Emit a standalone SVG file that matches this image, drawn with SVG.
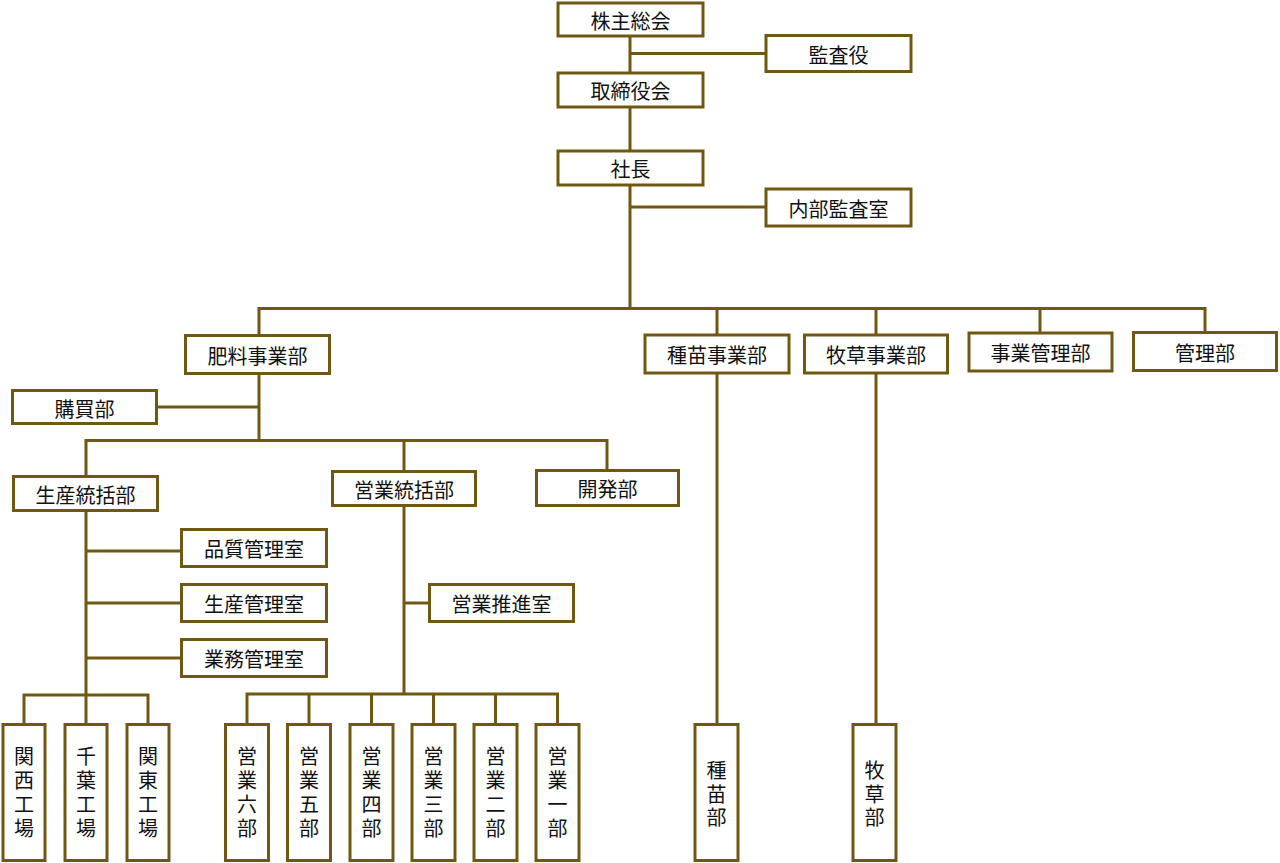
<svg xmlns="http://www.w3.org/2000/svg" width="1280" height="863" viewBox="0 0 1280 863">
<style>
.box{fill:#fff;stroke:#705812;stroke-width:3}
.ln{fill:none;stroke:#705812;stroke-width:3;stroke-linejoin:miter}
.t{font-family:"Noto Sans CJK JP","Noto Sans",sans-serif;font-size:20px;fill:#111;text-anchor:middle;dominant-baseline:central}
.v{writing-mode:vertical-rl;letter-spacing:3.7px}
</style>
<rect width="1280" height="863" fill="#fff"/>
<g id="connectors">
<path class="ln" d="M630,36 V73"/>
<path class="ln" d="M630,53.5 H766"/>
<path class="ln" d="M630,107 V151"/>
<path class="ln" d="M630,185 V308.5"/>
<path class="ln" d="M630,207 H766"/>
<path class="ln" d="M259,335.5 V308.5 H1205 V332.5"/>
<path class="ln" d="M717,308.5 V335 M876,308.5 V335 M1040,308.5 V333"/>
<path class="ln" d="M259,373.5 V440.5"/>
<path class="ln" d="M156.5,407 H259"/>
<path class="ln" d="M86,476.5 V440.5 H607 V470.5"/>
<path class="ln" d="M404,440.5 V471.5"/>
<path class="ln" d="M86,510.5 V695"/>
<path class="ln" d="M86,551 H181.5 M86,603 H181.5 M86,658 H181.5"/>
<path class="ln" d="M24,724.5 V695 H148 V724.5"/>
<path class="ln" d="M86,695 V724.5"/>
<path class="ln" d="M404,505.5 V694"/>
<path class="ln" d="M404,603 H429.5"/>
<path class="ln" d="M247,724.5 V694 H557.5 V724.5"/>
<path class="ln" d="M309,694 V724.5 M371.5,694 V724.5 M433.5,694 V724.5 M495.5,694 V724.5"/>
<path class="ln" d="M717,373 V724.5"/>
<path class="ln" d="M876,373 V724.5"/>
</g>
<g id="n-kabunushi"><rect class="box" x="558" y="3" width="145" height="33"/><text class="t" x="630.5" y="20">株主総会</text></g>
<g id="n-kansayaku"><rect class="box" x="766" y="35.5" width="145" height="36"/><text class="t" x="838.5" y="54">監査役</text></g>
<g id="n-torishimari"><rect class="box" x="558" y="73" width="145" height="34"/><text class="t" x="630.5" y="90.5">取締役会</text></g>
<g id="n-shacho"><rect class="box" x="558" y="151" width="145" height="34"/><text class="t" x="630.5" y="168.5">社長</text></g>
<g id="n-naibu"><rect class="box" x="766" y="189" width="145" height="37"/><text class="t" x="838.5" y="208">内部監査室</text></g>
<g id="n-hiryo"><rect class="box" x="185.5" y="335.5" width="144" height="38"/><text class="t" x="257.5" y="355">肥料事業部</text></g>
<g id="n-shubyo"><rect class="box" x="645" y="335" width="144" height="38"/><text class="t" x="717" y="354.5">種苗事業部</text></g>
<g id="n-bokuso"><rect class="box" x="804.5" y="335" width="143" height="38"/><text class="t" x="876" y="354.5">牧草事業部</text></g>
<g id="n-jigyokanri"><rect class="box" x="969" y="333" width="143" height="38"/><text class="t" x="1040.5" y="352.5">事業管理部</text></g>
<g id="n-kanri"><rect class="box" x="1133.5" y="332.5" width="143" height="38"/><text class="t" x="1205" y="352">管理部</text></g>
<g id="n-kobai"><rect class="box" x="12.5" y="390.5" width="144" height="33"/><text class="t" x="84.5" y="408">購買部</text></g>
<g id="n-seisantokatsu"><rect class="box" x="13.5" y="476.5" width="144" height="34"/><text class="t" x="85.5" y="494">生産統括部</text></g>
<g id="n-eigyotokatsu"><rect class="box" x="332.5" y="471.5" width="143" height="34"/><text class="t" x="404" y="489">営業統括部</text></g>
<g id="n-kaihatsu"><rect class="box" x="536.5" y="470.5" width="142" height="35"/><text class="t" x="607.5" y="488.5">開発部</text></g>
<g id="n-hinshitsu"><rect class="box" x="181.5" y="529.5" width="145" height="37"/><text class="t" x="254" y="548.5">品質管理室</text></g>
<g id="n-seisankanri"><rect class="box" x="181.5" y="584.5" width="145" height="37"/><text class="t" x="254" y="603.5">生産管理室</text></g>
<g id="n-gyomu"><rect class="box" x="181.5" y="639.5" width="145" height="37"/><text class="t" x="254" y="658.5">業務管理室</text></g>
<g id="n-suishin"><rect class="box" x="429.5" y="584.5" width="144" height="37"/><text class="t" x="501.5" y="603.5">営業推進室</text></g>
<g id="n-kansai"><rect class="box" x="3" y="724.5" width="42" height="136"/><text class="t v" x="24" y="794.3">関西工場</text></g>
<g id="n-chiba"><rect class="box" x="65" y="724.5" width="42" height="136"/><text class="t v" x="86" y="794.3">千葉工場</text></g>
<g id="n-kanto"><rect class="box" x="127" y="724.5" width="42" height="136"/><text class="t v" x="148" y="794.3">関東工場</text></g>
<g id="n-eigyo6"><rect class="box" x="225.5" y="724.5" width="43" height="136"/><text class="t v" x="247" y="794.3">営業六部</text></g>
<g id="n-eigyo5"><rect class="box" x="287.5" y="724.5" width="43" height="136"/><text class="t v" x="309" y="794.3">営業五部</text></g>
<g id="n-eigyo4"><rect class="box" x="350" y="724.5" width="43" height="136"/><text class="t v" x="371.5" y="794.3">営業四部</text></g>
<g id="n-eigyo3"><rect class="box" x="412" y="724.5" width="43" height="136"/><text class="t v" x="433.5" y="794.3">営業三部</text></g>
<g id="n-eigyo2"><rect class="box" x="474" y="724.5" width="43" height="136"/><text class="t v" x="495.5" y="794.3">営業二部</text></g>
<g id="n-eigyo1"><rect class="box" x="536" y="724.5" width="43" height="136"/><text class="t v" x="557.5" y="794.3">営業一部</text></g>
<g id="n-shubyobu"><rect class="box" x="695" y="724.5" width="43" height="136"/><text class="t v" x="716.5" y="796">種苗部</text></g>
<g id="n-bokusobu"><rect class="box" x="853" y="724.5" width="43" height="136"/><text class="t v" x="874.5" y="796">牧草部</text></g>
</svg>
